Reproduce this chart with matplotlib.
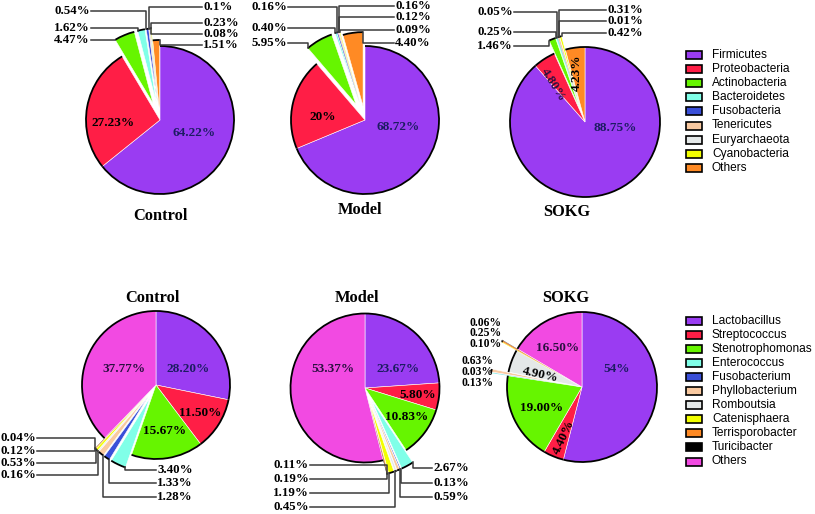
import numpy as np
import matplotlib.pyplot as plt
from matplotlib.patches import Arc, Rectangle

W, H = 815, 514

# ---- data -------------------------------------------------------------
phylum = ["Firmicutes", "Proteobacteria", "Actinobacteria", "Bacteroidetes",
          "Fusobacteria", "Tenericutes", "Euryarchaeota", "Cyanobacteria", "Others"]
phylum_colors = ["#9a3cf2", "#ff1e46", "#66f500", "#80ffe8", "#3a4fd8",
                 "#f9c9a0", "#e4e8e8", "#f2ff00", "#ff8a24"]

genus = ["Lactobacillus", "Streptococcus", "Stenotrophomonas", "Enterococcus",
         "Fusobacterium", "Phyllobacterium", "Romboutsia", "Catenisphaera",
         "Terrisporobacter", "Turicibacter", "Others"]
genus_colors = ["#9a3cf2", "#ff1e46", "#66f500", "#80ffe8", "#3a4fd8",
                "#f9c9a0", "#e4e8e8", "#f2ff00", "#ff8a24", "#000000", "#f24ae2"]

# percentages as printed in the figure
top_control = ["64.22", "27.23", "4.47", "1.62", "0.54", "0.1", "0.23", "0.08", "1.51"]
top_model = ["68.72", "20", "5.95", "0.40", "0.16", "0.16", "0.12", "0.09", "4.40"]
top_sokg = ["88.75", "4.80", "1.46", "0.25", "0.05", "0.31", "0.01", "0.42", "4.23"]

bot_control = ["28.20", "11.50", "15.67", "3.40", "1.33", "1.28", "0.16", "0.53", "0.12", "0.04", "37.77"]
bot_model = ["23.67", "5.80", "10.83", "2.67", "0.13", "0.59", "0.45", "1.19", "0.19", "0.11", "53.37"]
bot_sokg = ["54", "4.40", "19.00", "0.13", "0.03", "0.63", "4.90", "0.10", "0.25", "0.06", "16.50"]

SERIF = "Liberation Serif"
SANS = "Liberation Sans"
NAVY = "#1c1c62"
DARK = "#2a1040"


def px(x, y):
    # pixel position (origin top-left) -> data coords
    return x, H - y


fig = plt.figure(figsize=(W / 100, H / 100), dpi=100)
ax = fig.add_axes([0, 0, 1, 1])


def draw_pie(vals, colors, cx, cy, r, explode, inner, outer, title, tpos, fs=9.3):
    v = [float(s) for s in vals]
    wedges, _ = ax.pie(v, colors=colors, startangle=90, counterclock=False,
                       center=px(cx, cy), radius=r, explode=explode, frame=True,
                       wedgeprops=dict(edgecolor="white", linewidth=0.4))
    for w in wedges:
        # very thin slices: no white edge, or they vanish
        if w.theta2 - w.theta1 < 1.2:
            w.set_linewidth(0)
        # black outline on the rim of every slice
        ax.add_patch(Arc(w.center, 2 * w.r, 2 * w.r, theta1=w.theta1, theta2=w.theta2,
                         color="black", lw=1.3, zorder=3))

    for i, x, y, rot, col in inner:
        ax.text(*px(x, y), vals[i] + "%", family=SERIF, weight="bold", fontsize=9.5,
                color=col, ha="center", va="center", rotation=rot, zorder=5)

    for i, x, y, side in outer:
        ha = {"L": "right", "R": "left", "N": "left"}[side]
        ax.text(*px(x, y), vals[i] + "%", family=SERIF, weight="bold", fontsize=fs,
                ha=ha, va="center", zorder=5)
        if side == "N":
            continue
        w = wedges[i]
        x0 = x + 1 if side == "L" else x - 1
        lx, ly = px(x0, y)
        cands = []
        for t in (w.theta1, (w.theta1 + w.theta2) / 2, w.theta2):
            a = np.deg2rad(t)
            cands.append((w.center[0] + w.r * np.cos(a), w.center[1] + w.r * np.sin(a)))
        axx, ayy = min(cands, key=lambda p: (p[0] - lx) ** 2 + (p[1] - ly) ** 2)
        ax.plot([lx, axx, axx], [ly, ly, ayy], color="#3a3a3a", lw=1.1, zorder=4)

    ax.text(*px(*tpos), title, family=SERIF, weight="bold", fontsize=11.8,
            ha="center", va="center")


# ---- phylum level -----------------------------------------------------
draw_pie(top_control, phylum_colors, 160, 120, 74,
         [0, 0, 18, 18, 18, 18, 18, 18, 6],
         [(0, 194, 133, 0, NAVY), (1, 113, 123, 0, "black")],
         [(2, 90, 40, "L"), (3, 90, 28, "L"), (4, 90, 11, "L"),
          (5, 203, 7, "R"), (6, 203, 23, "R"), (7, 203, 34, "R"), (8, 203, 45, "R")],
         "Control", (161, 216))

draw_pie(top_model, phylum_colors, 365, 120, 74,
         [0, 0, 18, 18, 18, 18, 18, 18, 14],
         [(0, 398, 127, 0, NAVY), (1, 323, 117, 0, "black")],
         [(2, 287, 43, "L"), (3, 287, 28, "L"), (4, 287, 7, "L"),
          (5, 395, 6, "R"), (6, 395, 17, "R"), (7, 395, 30, "R"), (8, 395, 43, "R")],
         "Model", (360, 210))

draw_pie(top_sokg, phylum_colors, 585, 122, 75,
         [0, 0, 14, 14, 14, 14, 14, 14, 0],
         [(0, 615, 128, 0, NAVY), (1, 553, 85, -58, DARK), (8, 577, 73, 90, "black")],
         [(2, 513, 46, "L"), (3, 513, 32, "L"), (4, 513, 12, "L"),
          (5, 607, 10, "R"), (6, 607, 21, "R"), (7, 607, 33, "R")],
         "SOKG", (567, 212))

# ---- genus level ------------------------------------------------------
draw_pie(bot_control, genus_colors, 156, 385, 74,
         [0, 0, 0, 14, 14, 14, 14, 14, 14, 14, 0],
         [(0, 188, 369, 0, NAVY), (10, 124, 369, 0, DARK),
          (1, 200, 413, 0, "black"), (2, 165, 431, 0, "black")],
         [(3, 157, 470, "R"), (4, 157, 483, "R"), (5, 157, 497, "R"),
          (6, 36, 475, "L"), (7, 36, 463, "L"), (8, 36, 451, "L"), (9, 36, 438, "L")],
         "Control", (153, 298))

draw_pie(bot_model, genus_colors, 365, 388, 74.5,
         [0, 0, 0, 14, 14, 14, 14, 14, 14, 14, 0],
         [(0, 398, 369, 0, NAVY), (10, 333, 369, 0, DARK),
          (1, 418, 395, 0, "black"), (2, 407, 417, 0, "black")],
         [(3, 433, 468, "R"), (4, 433, 483, "R"), (5, 433, 497, "R"),
          (6, 309, 507, "L"), (7, 309, 493, "L"), (8, 309, 479, "L"), (9, 309, 465, "L")],
         "Model", (357, 298))

draw_pie(bot_sokg, genus_colors, 582, 387, 75,
         [0, 0, 0, 17, 17, 17, 0, 17, 17, 17, 0],
         [(0, 617, 369, 0, NAVY), (10, 558, 348, 0, DARK), (6, 540, 375, -12, "black"),
          (2, 542, 408, 0, "black"), (1, 564, 437, 65, "black")],
         [(3, 461, 383.5, "N"), (4, 461, 372, "N"), (5, 461, 360.5, "N"),
          (7, 470, 344, "N"), (8, 470, 333.5, "N"), (9, 470, 323, "N")],
         "SOKG", (566, 298), fs=8.4)


# ---- legends ----------------------------------------------------------
def legend(names, colors, y0):
    for k, (n, c) in enumerate(zip(names, colors)):
        y = y0 + k * 14.1
        x, yb = px(686, y + 4)
        ax.add_patch(Rectangle((x, yb), 16, 8, facecolor=c, edgecolor="black", lw=1.2))
        ax.text(*px(712, y), n, family=SANS, fontsize=8.6, ha="left", va="center")


legend(phylum, phylum_colors, 55)
legend(genus, genus_colors, 320.5)

ax.set_xlim(0, W)
ax.set_ylim(0, H)
ax.set_aspect("equal")
ax.axis("off")

fig.savefig("out.png", dpi=100)
